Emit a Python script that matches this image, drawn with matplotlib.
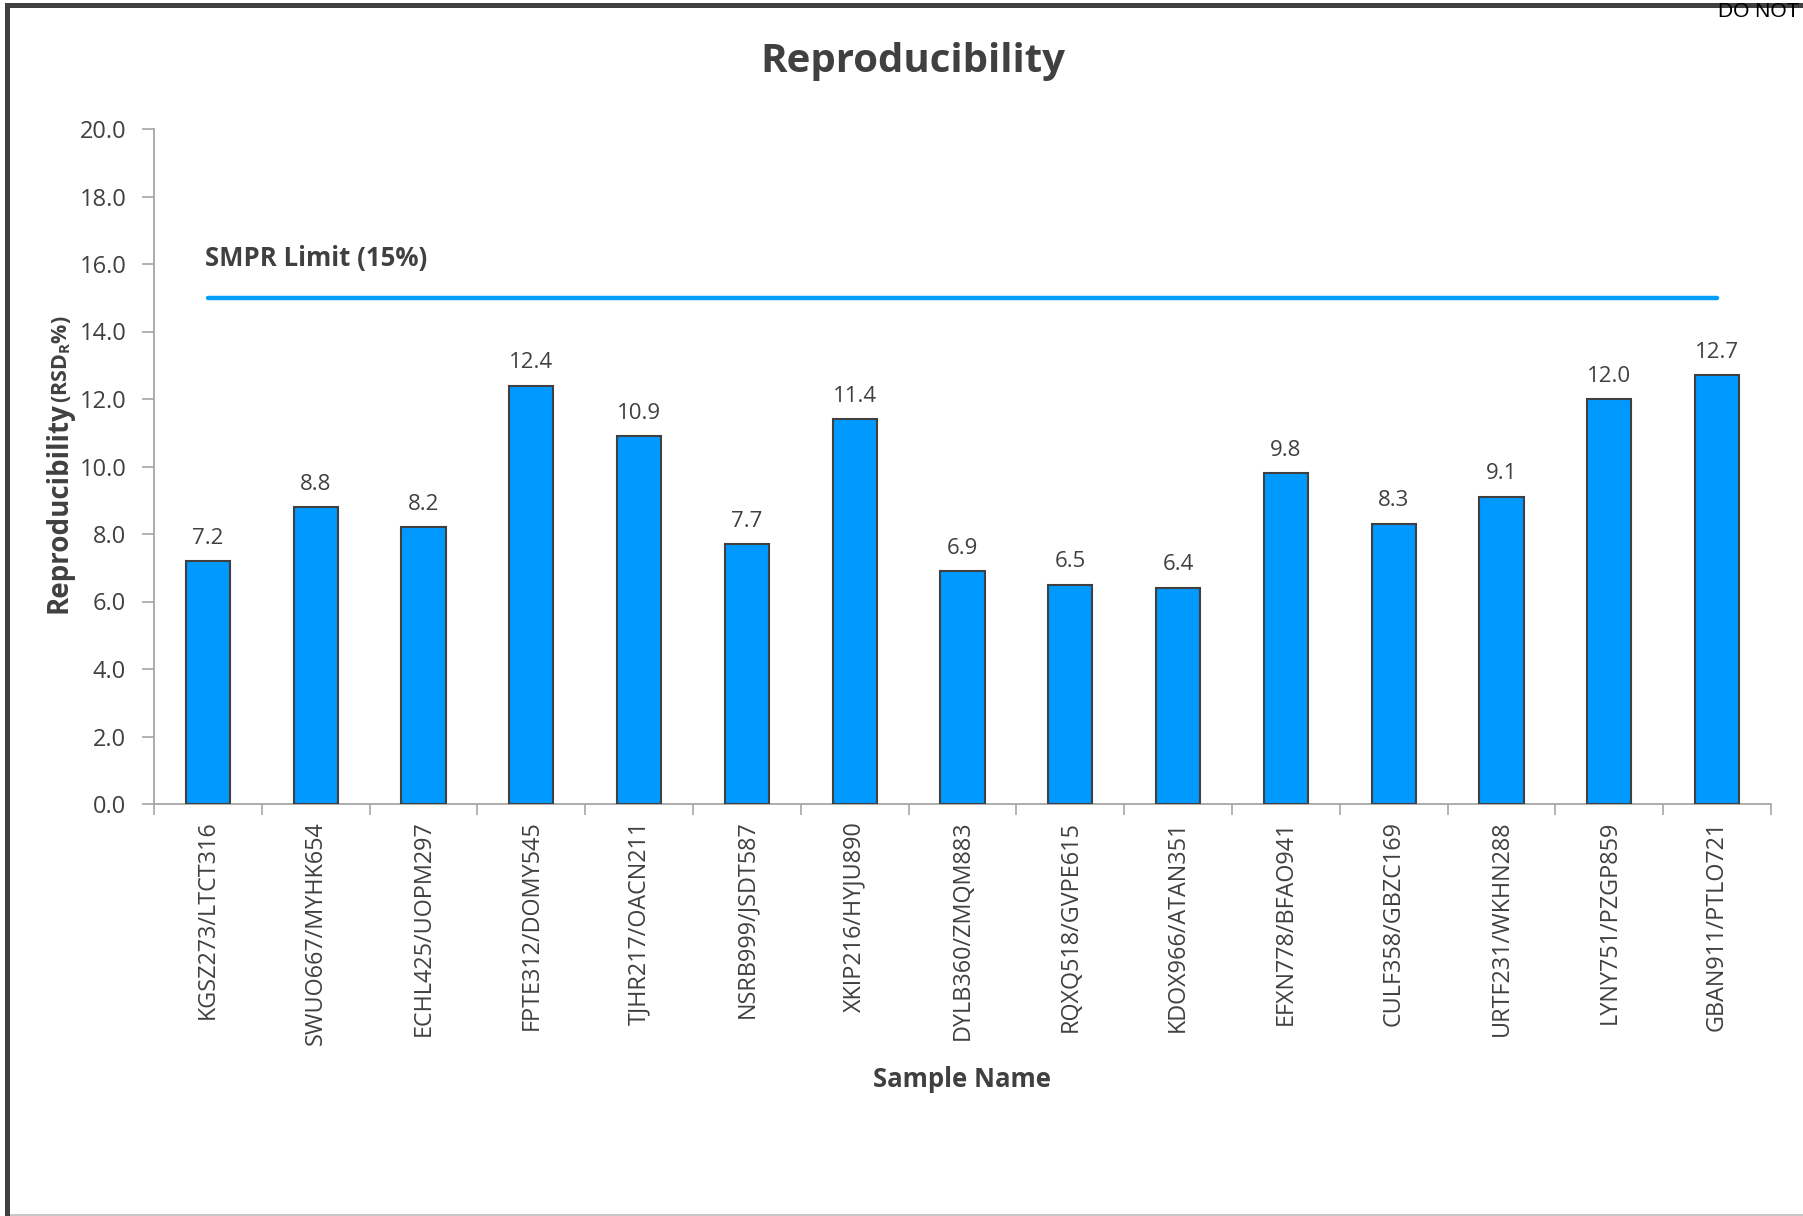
import numpy as np
import matplotlib
matplotlib.use("Agg")
import matplotlib.pyplot as plt
from matplotlib.patches import Rectangle
from matplotlib.ticker import FixedLocator

# ---- data -------------------------------------------------------------
samples = [
    "KGSZ273/LTCT316", "SWUO667/MYHK654", "ECHL425/UOPM297", "FPTE312/DOMY545",
    "TJHR217/OACN211", "NSRB999/JSDT587", "XKIP216/HYJU890", "DYLB360/ZMQM883",
    "RQXQ518/GVPE615", "KDOX966/ATAN351", "EFXN778/BFAO941", "CULF358/GBZC169",
    "URTF231/WKHN288", "LYNY751/PZGP859", "GBAN911/PTLO721",
]
rsd_values = [7.2, 8.8, 8.2, 12.4, 10.9, 7.7, 11.4, 6.9, 6.5, 6.4, 9.8, 8.3, 9.1, 12.0, 12.7]
smpr_limit = 15.0
y_ticks = [0, 2, 4, 6, 8, 10, 12, 14, 16, 18, 20]

# ---- style ------------------------------------------------------------
plt.rcParams["font.family"] = ["Open Sans", "DejaVu Sans"]
plt.rcParams["mathtext.fontset"] = "custom"
plt.rcParams["mathtext.rm"] = "Open Sans:bold"
plt.rcParams["mathtext.it"] = "Open Sans:bold"
plt.rcParams["mathtext.bf"] = "Open Sans:bold"
plt.rcParams["mathtext.default"] = "rm"

TEXT = "#404040"
AXIS = "#A6A6A6"
BAR = "#0099FF"
LIMIT = "#00A0FA"

W, H = 1803, 1216
fig = plt.figure(figsize=(W / 100, H / 100), dpi=100)
fig.patch.set_facecolor("white")

ax = fig.add_axes([154 / W, (H - 804) / H, (1771 - 154) / W, (804 - 129) / H])

x = np.arange(len(samples))
ax.bar(x, rsd_values, width=0.41, color=BAR, edgecolor="#404040",
       linewidth=1.5, zorder=3)

for xi, v in zip(x, rsd_values):
    ax.annotate(f"{v:.1f}", (xi, v), xytext=(0, 9), textcoords="offset points",
                ha="center", va="bottom", fontsize=16, color=TEXT)

# limit line between first and last sample
ax.plot([x[0], x[-1]], [smpr_limit, smpr_limit], color=LIMIT, lw=3.2,
        solid_capstyle="round", zorder=2)
ax.text(-0.03, 15.94, "SMPR Limit (15%)", fontsize=18.5, weight="bold",
        color=TEXT, ha="left", va="baseline")

ax.set_xlim(-0.5, len(samples) - 0.5)
ax.set_ylim(0, 20)

ax.set_yticks(y_ticks)
ax.set_yticklabels([f"{v:.1f}" for v in y_ticks])
ax.tick_params(axis="y", length=9, width=1.2, color=AXIS, pad=11,
               labelsize=17, labelcolor=TEXT)

ax.set_xticks(x)
ax.set_xticklabels(samples, rotation=90)
ax.xaxis.set_minor_locator(FixedLocator(np.arange(-0.5, len(samples), 1.0)))
ax.tick_params(axis="x", which="major", length=0, pad=12,
               labelsize=16.8, labelcolor=TEXT)
ax.tick_params(axis="x", which="minor", length=8, width=1.2, color=AXIS)

for side in ("top", "right"):
    ax.spines[side].set_visible(False)
for side in ("left", "bottom"):
    ax.spines[side].set_color(AXIS)
    ax.spines[side].set_linewidth(1.3)

# titles
fig.text(913 / W, 1 - 72 / H, "Reproducibility", fontsize=29, weight="bold",
         color=TEXT, ha="center", va="baseline")
fig.text(962 / W, 1 - 1087 / H, "Sample Name", fontsize=18.5, weight="bold",
         color=TEXT, ha="center", va="baseline")

t1 = fig.text(66 / W, 1 - 613 / H, "Reproducibility", fontsize=20, weight="bold",
              color=TEXT, rotation=90, rotation_mode="anchor",
              ha="left", va="baseline")
fig.canvas.draw()
bb = t1.get_window_extent()
fig.text(67 / W, (bb.y1 - 1) / H, r"(RSD$_{R}$%)", fontsize=15.5, weight="bold",
         color=TEXT, rotation=90, rotation_mode="anchor",
         ha="left", va="baseline")

# frame around the chart area
fig.add_artist(Rectangle((5 / W, 0), 5 / W, (H - 3) / H,
                         transform=fig.transFigure, color="#404040", lw=0))
fig.add_artist(Rectangle((5 / W, (H - 8) / H), (W - 5) / W, 5 / H,
                         transform=fig.transFigure, color="#404040", lw=0))
fig.add_artist(Rectangle((10 / W, 0), (W - 10) / W, 2 / H,
                         transform=fig.transFigure, color="#C8C8C8", lw=0))

fig.text(1718 / W, 1 - 17 / H, "DO NOT", fontsize=15, color="black",
         family=["Liberation Sans", "DejaVu Sans"], ha="left", va="baseline")

fig.savefig("out.png", dpi=100)
